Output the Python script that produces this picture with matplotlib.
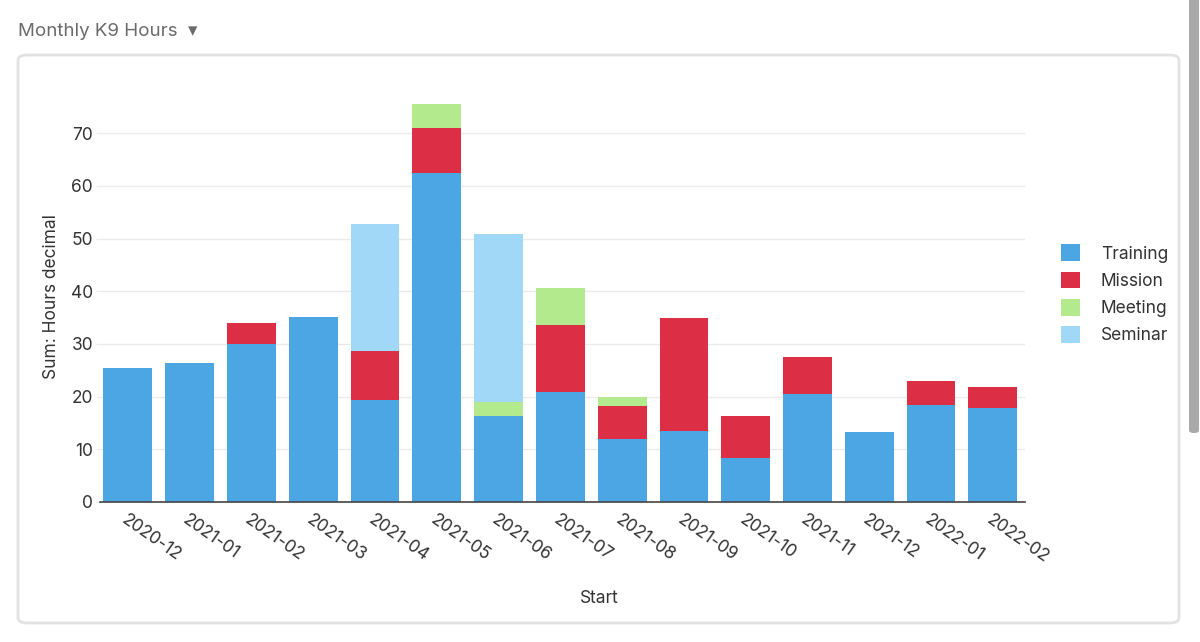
import numpy as np
import matplotlib
matplotlib.use('Agg')
import matplotlib.pyplot as plt
from matplotlib.patches import FancyBboxPatch

plt.rcParams['font.family'] = ['Inter', 'DejaVu Sans']

# Data
months = ['2020-12', '2021-01', '2021-02', '2021-03', '2021-04', '2021-05', '2021-06',
          '2021-07', '2021-08', '2021-09', '2021-10', '2021-11', '2021-12', '2022-01', '2022-02']
training = [25.4, 26.4, 29.9, 35.2, 19.4, 62.4, 16.3, 20.9, 12.0, 13.4, 8.4, 20.5, 13.3, 18.4, 17.9]
mission = [0, 0, 4.1, 0, 9.2, 8.6, 0, 12.7, 6.3, 21.6, 8.0, 7.1, 0, 4.5, 4.0]
meeting = [0, 0, 0, 0, 0, 4.5, 2.6, 7.0, 1.6, 0, 0, 0, 0, 0, 0]
seminar = [0, 0, 0, 0, 24.1, 0, 32.0, 0, 0, 0, 0, 0, 0, 0, 0]

series = [('Training', training, '#4ba6e3'),
          ('Mission', mission, '#dc2f45'),
          ('Meeting', meeting, '#b3ea8d'),
          ('Seminar', seminar, '#a2d8f7')]

text_color = '#333333'

fig = plt.figure(figsize=(12, 6.42), dpi=100)

# card border and scrollbar
fig.patches.append(FancyBboxPatch((18 / 1200, 1 - 623 / 642), 1161 / 1200, 568 / 642,
                                  boxstyle='round,pad=0,rounding_size=0.008',
                                  transform=fig.transFigure, facecolor='white',
                                  edgecolor='#e2e2e2', linewidth=2, zorder=-5))
fig.patches.append(FancyBboxPatch((1189 / 1200, 1 - 433 / 642), 10 / 1200, 440 / 642,
                                  boxstyle='round,pad=0,rounding_size=0.004',
                                  transform=fig.transFigure, facecolor='#a9a9a9',
                                  edgecolor='none', zorder=-5))

fig.text(18 / 1200, 1 - 31 / 642, 'Monthly K9 Hours  \u25be', fontsize=13.5,
         color='#6b6b6b', va='center', ha='left')

ax = fig.add_axes([100 / 1200, 1 - 502 / 642, 925 / 1200, 411 / 642])
ax.set_zorder(2)
ax.set_facecolor('none')

x = np.arange(len(months))
bottom = np.zeros(len(months))
for name, vals, color in series:
    vals = np.array(vals)
    ax.bar(x, vals, width=0.79, bottom=bottom, color=color, label=name, zorder=2)
    bottom += vals

ax.set_xlim(-0.45, 14.52)
ax.set_ylim(0, 78)
ax.set_yticks(range(0, 80, 10))
ax.grid(axis='y', color='#ebebeb', linewidth=1, zorder=0)

for s in ['top', 'right', 'left']:
    ax.spines[s].set_visible(False)
ax.spines['bottom'].set_color('#444444')
ax.spines['bottom'].set_linewidth(1.2)
ax.spines['bottom'].set_zorder(3)

ax.tick_params(axis='y', length=3, color='#ebebeb', labelsize=12.5, labelcolor=text_color, pad=2)
ax.tick_params(axis='x', length=0, labelsize=12.5, labelcolor=text_color, pad=7)
ax.set_xticks(x)
ax.set_xticklabels(months, rotation=-35, ha='left', rotation_mode='anchor')

ax.set_ylabel('Sum: Hours decimal', fontsize=12.5, color=text_color, labelpad=8)
ax.set_xlabel('Start', fontsize=12.5, color=text_color)
ax.xaxis.set_label_coords(0.54, -0.215)

leg = ax.legend(loc='center left', bbox_to_anchor=(1.022, 0.505), frameon=False,
                fontsize=12.5, handlelength=1.1, handleheight=1.1, handletextpad=1.2,
                labelspacing=0.52)
for t in leg.get_texts():
    t.set_color(text_color)

fig.savefig('out.png', dpi=100, facecolor='white')
